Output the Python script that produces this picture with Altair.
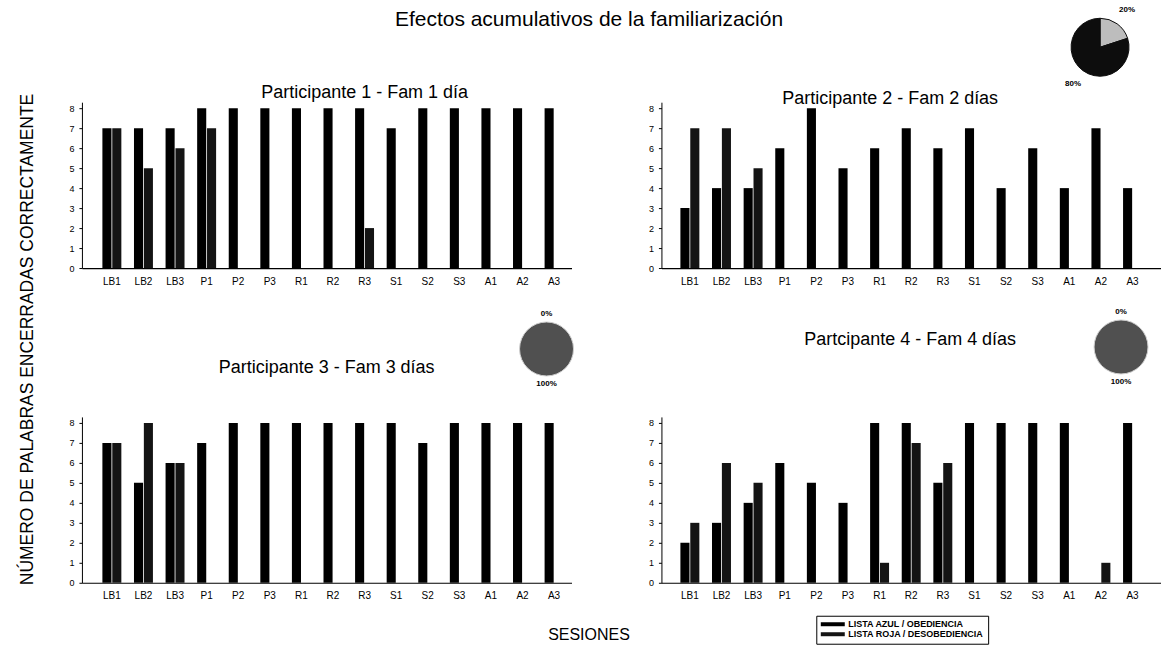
import altair as alt
import pandas as pd

FONT = "Liberation Sans"

sesiones = ["LB1", "LB2", "LB3", "P1", "P2", "P3", "R1", "R2", "R3",
            "S1", "S2", "S3", "A1", "A2", "A3"]
listas = ["LISTA AZUL / OBEDIENCIA", "LISTA ROJA / DESOBEDIENCIA"]

p1_azul = [7, 7, 7, 8, 8, 8, 8, 8, 8, 7, 8, 8, 8, 8, 8]
p1_roja = [7, 5, 6, 7, 0, 0, 0, 0, 2, 0, 0, 0, 0, 0, 0]
p2_azul = [3, 4, 4, 6, 8, 5, 6, 7, 6, 7, 4, 6, 4, 7, 4]
p2_roja = [7, 7, 5, 0, 0, 0, 0, 0, 0, 0, 0, 0, 0, 0, 0]
p3_azul = [7, 5, 6, 7, 8, 8, 8, 8, 8, 8, 7, 8, 8, 8, 8]
p3_roja = [7, 8, 6, 0, 0, 0, 0, 0, 0, 0, 0, 0, 0, 0, 0]
p4_azul = [2, 3, 4, 6, 5, 4, 8, 8, 5, 8, 8, 8, 8, 0, 8]
p4_roja = [3, 6, 5, 0, 0, 0, 1, 7, 6, 0, 0, 0, 0, 1, 0]

titulos = ["Participante 1 - Fam 1 día", "Participante 2 - Fam 2 días",
           "Participante 3 - Fam 3 días", "Partcipante 4 - Fam 4 días"]

pie_partes = ["a", "b"]
pie2_pct = [20, 80]
pie3_pct = [0, 100]
pie4_pct = [0, 100]


def bars_df(azul, roja):
    rows = []
    for s, a, r in zip(sesiones, azul, roja):
        rows.append({"sesion": s, "lista": listas[0], "palabras": a})
        rows.append({"sesion": s, "lista": listas[1], "palabras": r})
    return pd.DataFrame(rows)


def pie_df(pcts):
    return pd.DataFrame({"parte": pie_partes, "pct": pcts,
                         "etiqueta": [f"{v}%" for v in pcts]})


legend = alt.Legend(orient="none", legendX=735, legendY=514, title=None,
                    strokeColor="black", padding=4, rowPadding=0,
                    symbolType="M-3,-0.5L3,-0.5L3,0.5L-3,0.5Z",
                    symbolSize=64, symbolStrokeWidth=0, symbolOffset=8,
                    labelOffset=11,
                    labelFont=FONT, labelFontSize=9, labelFontWeight="bold",
                    labelColor="black", labelLimit=400)


def panel(azul, roja, title, w, h, pad_outer, align, tdx, tdy,
          y_title=None, x_title=None):
    yax = dict(values=list(range(9)), grid=False, tickSize=3, labelPadding=5,
               domainColor="black", tickColor="black", labelColor="black",
               labelFont=FONT, labelFontSize=9, title=None)
    if y_title:
        yax.update(title=y_title, titleX=-54, titleY=237, titleAngle=270,
                   titleAlign="center", titleBaseline="middle",
                   titleFont=FONT, titleFontSize=17.5, titleFontWeight="normal",
                   titleColor="black")
    xax = dict(ticks=False, labelAngle=0, labelPadding=8, domainColor="black",
               domainWidth=1.2, labelColor="black", labelFont=FONT,
               labelFontSize=10, title=None)
    if x_title:
        xax.update(title=x_title, titleX=507, titleY=52, titleAlign="center",
                   titleBaseline="middle", titleFont=FONT, titleFontSize=16,
                   titleFontWeight="normal", titleColor="black")
    bars = alt.Chart(bars_df(azul, roja)).mark_bar().encode(
        x=alt.X("sesion:N", sort=sesiones,
                scale=alt.Scale(paddingInner=0.4, paddingOuter=pad_outer, align=align),
                axis=alt.Axis(**xax)),
        xOffset=alt.XOffset("lista:N", sort=listas, scale=alt.Scale(paddingInner=0.08)),
        y=alt.Y("palabras:Q", scale=alt.Scale(domain=[0, 8.3], nice=False),
                axis=alt.Axis(**yax)),
        color=alt.Color("lista:N", sort=listas,
                        scale=alt.Scale(domain=listas, range=["#000000", "#141414"]),
                        legend=legend),
    )
    return bars, dict(width=w, height=h,
                      title=alt.TitleParams(title, font=FONT, fontSize=18,
                                            fontWeight="normal", color="black",
                                            anchor="middle", frame="group",
                                            dx=tdx, dy=tdy))


def pie(pcts, cx, cy, r, lr, colors, stroke):
    base = alt.Chart(pie_df(pcts)).encode(
        theta=alt.Theta("pct:Q", stack=True),
        order=alt.Order("parte:N"),
    )
    arc = base.mark_arc(x=cx, y=cy, outerRadius=r, stroke=stroke, strokeWidth=1).encode(
        fill=alt.Fill("parte:N", scale=alt.Scale(domain=pie_partes, range=colors),
                      legend=None))
    txt = base.mark_text(x=cx, y=cy, radius=lr, font=FONT, fontSize=8,
                         fontWeight="bold", color="black").encode(text="etiqueta:N")
    return arc + txt


b1, o1 = panel(p1_azul, p1_roja, titulos[0], 490, 166, 0.45, 0.72, 38, 13,
               y_title="NÚMERO DE PALABRAS ENCERRADAS CORRECTAMENTE")
b2, o2 = panel(p2_azul, p2_roja, titulos[1], 500, 166, 0.6, 0.5, -21, 106)
b3, o3 = panel(p3_azul, p3_roja, titulos[2], 490, 166, 0.45, 0.72, 0, 71,
               x_title="SESIONES")
b4, o4 = panel(p4_azul, p4_roja, titulos[3], 500, 166, 0.6, 0.5, -1, 45)

c1 = b1.properties(**o1)
c2 = alt.layer(b2, pie(pie2_pct, 439, -55, 29, 46, ["#bdbdbd", "#0d0d0d"], "#0d0d0d")).properties(**o2)
c3 = alt.layer(b3, pie(pie3_pct, 465, -68, 27, 35, ["#dddddd", "#505050"], "#cfcfcf")).properties(**o3)
c4 = alt.layer(b4, pie(pie4_pct, 460, -70, 27, 35, ["#dddddd", "#505050"], "#cfcfcf")).properties(**o4)

chart = alt.concat(c1, c2, c3, c4, columns=2, bounds="flush", align="each",
                   spacing=alt.RowColnumber(column=90, row=149)).properties(
    title=alt.TitleParams("Efectos acumulativos de la familiarización", font=FONT,
                          fontSize=21, fontWeight="normal", color="black",
                          anchor="middle", dx=-1, dy=28),
    padding={"left": 18, "top": 5, "right": 0, "bottom": 0},
    background="white",
).resolve_scale(fill="independent").configure_view(stroke=None)

chart.save("out.html", embed_options={"renderer": "svg", "actions": False})
